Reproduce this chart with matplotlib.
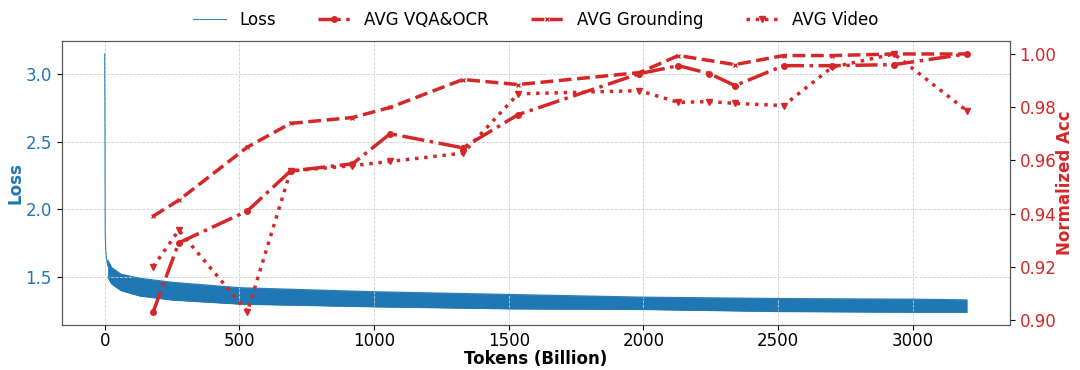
import matplotlib.pyplot as plt

# loss curve: early drop, then the noisy band read as upper/lower envelope
head_tokens = [0, 1, 2, 4, 8, 12]
head_loss = [3.15, 2.60, 1.83, 1.70, 1.62, 1.58]
band_tokens = [12, 25, 60, 130, 250, 500, 1000, 1500, 2000, 2500, 3000, 3200]
band_upper = [1.62, 1.57, 1.52, 1.49, 1.46, 1.42, 1.39, 1.37, 1.35, 1.34, 1.335, 1.33]
band_lower = [1.50, 1.45, 1.40, 1.36, 1.33, 1.30, 1.28, 1.265, 1.26, 1.245, 1.24, 1.24]

# normalized accuracy checkpoints
tokens = [180, 275, 530, 690, 920, 1060, 1330, 1535, 1985, 2130, 2245, 2340, 2520, 2700, 2930, 3200]
vqa_ocr = [0.903, 0.929, 0.941, 0.956, 0.9587, 0.970, 0.9647, 0.9772, 0.9926, 0.9956,
           0.9926, 0.9881, 0.9956, 0.9956, 0.996, 1.0]
video = [0.920, 0.9337, 0.9031, 0.956, 0.958, 0.9596, 0.9627, 0.985, 0.9862, 0.9818,
         0.9821, 0.9814, 0.9806, 0.995, 1.0, 0.9787]
ground_tokens = [180, 275, 530, 690, 920, 1060, 1330, 1535, 1985, 2130, 2340, 2520, 2700, 2930, 3200]
grounding = [0.939, 0.945, 0.965, 0.9739, 0.9761, 0.9799, 0.9904, 0.9885, 0.993, 0.9994,
             0.996, 0.9994, 0.9994, 1.0, 1.0]

blue = '#1f77b4'
red = '#d62728'

fig, ax1 = plt.subplots(figsize=(10.8, 3.7), dpi=100)
fig.subplots_adjust(left=0.057, right=0.935, bottom=0.122, top=0.889)

ax1.plot(head_tokens + band_tokens, head_loss + band_upper, color=blue, lw=0.8, label='Loss', alpha=0.9)
ax1.fill_between(band_tokens, band_lower, band_upper, color=blue, lw=0.5)
ax1.plot(band_tokens, band_lower, color=blue, lw=0.8)
ax1.set_xlabel('Tokens (Billion)', fontsize=12, fontweight='bold')
ax1.set_ylabel('Loss', fontsize=12, fontweight='bold', color=blue)
ax1.xaxis.set_label_coords(0.5, -0.088)
ax1.yaxis.set_label_coords(-0.039, 0.5)
ax1.tick_params(axis='y', labelcolor=blue, labelsize=12)
ax1.tick_params(axis='x', labelsize=12, pad=1.5)
ax1.set_yticks([1.5, 2.0, 2.5, 3.0])
ax1.grid(True, linestyle='--', color='#d0d0d0', linewidth=0.6)

ax2 = ax1.twinx()
ax2.plot(tokens, vqa_ocr, linestyle='-.', marker='o', markersize=4, color=red, lw=2.5, label='AVG VQA&OCR')
ax2.plot(ground_tokens, grounding, linestyle='--', marker='x', markersize=3, color=red, lw=2.5, label='AVG Grounding')
ax2.plot(tokens, video, linestyle=':', marker='v', markersize=4, color=red, lw=2.5, label='AVG Video')
ax2.set_ylabel('Normalized Acc', fontsize=12, fontweight='bold', color=red)
ax2.yaxis.set_label_coords(1.049, 0.5)
ax2.tick_params(axis='y', labelcolor=red, labelsize=12)
ax2.set_yticks([0.90, 0.92, 0.94, 0.96, 0.98, 1.00])

for ax in (ax1, ax2):
    for s in ax.spines.values():
        s.set_color('#555555')

h1, l1 = ax1.get_legend_handles_labels()
h2, l2 = ax2.get_legend_handles_labels()
ax1.legend(h1 + h2, l1 + l2, loc='lower center', bbox_to_anchor=(0.5, 0.99), ncol=4,
           frameon=False, fontsize=12, columnspacing=2.5)

plt.savefig('out.png')
